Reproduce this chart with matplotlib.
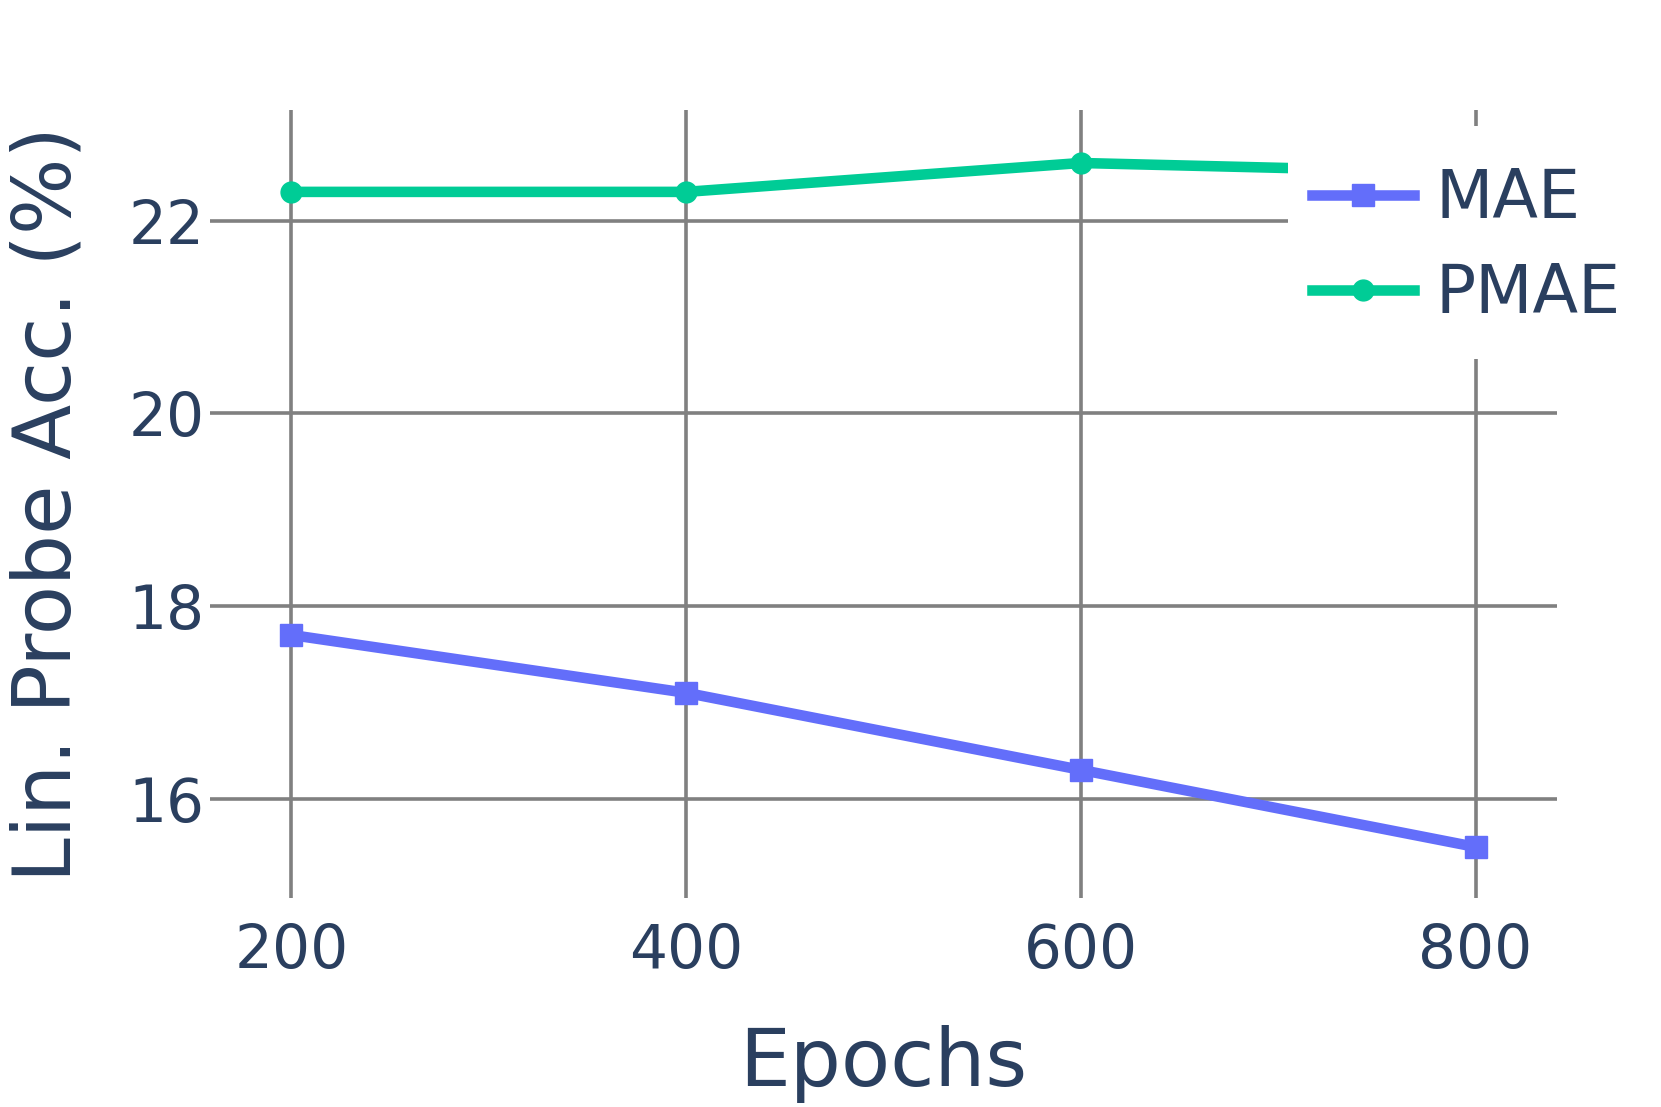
import matplotlib
matplotlib.use("Agg")
import matplotlib.pyplot as plt
from matplotlib.lines import Line2D
from matplotlib.patches import Rectangle

# values
epochs = [200, 400, 600, 800]
mae_acc = [17.7, 17.1, 16.3, 15.5]
pmae_acc = [22.3, 22.3, 22.6, 22.5]
series_names = ["MAE", "PMAE"]
y_ticks = [16, 18, 20, 22]

TEXT = "#2a3f5f"
GRID = "#808080"
MAE_COLOR = "#636efa"
PMAE_COLOR = "#00cc96"
LW = 7.6

W, H = 1661, 1107
fig = plt.figure(figsize=(W / 100, H / 100), dpi=100)
ax = fig.add_axes([210 / W, 1 - 898 / H, (1557 - 210) / W, (898 - 110) / H])

ax.plot(epochs, mae_acc, color=MAE_COLOR, lw=LW, marker="s", ms=16,
        solid_joinstyle="round", zorder=3, clip_on=False)
ax.plot(epochs, pmae_acc, color=PMAE_COLOR, lw=LW, marker="o", ms=15,
        solid_joinstyle="round", zorder=3, clip_on=False)

ax.set_xlim(158.7, 841.3)
ax.set_ylim(14.97, 23.15)
ax.set_xticks(epochs)
ax.set_yticks(y_ticks)
ax.grid(True, color=GRID, lw=2.6)
ax.set_axisbelow(True)
for s in ax.spines.values():
    s.set_visible(False)
ax.tick_params(length=0, labelsize=43, labelcolor=TEXT)
ax.tick_params(axis="x", pad=17)
ax.tick_params(axis="y", pad=4)

ax.set_xlabel("Epochs", fontsize=58, color=TEXT, va="center")
ax.xaxis.set_label_coords(0.5, -0.211)
ax.set_ylabel("Lin. Probe Acc. (%)", fontsize=58, color=TEXT, va="center")
ax.yaxis.set_label_coords(-0.120, 0.5)

# legend background covers part of the plot, like plotly does
fig.patches.append(Rectangle((1288 / W, 1 - 359 / H), (W - 1288) / W, (359 - 126) / H,
                             transform=fig.transFigure, facecolor="white",
                             edgecolor="none", zorder=4))
handles = [
    Line2D([], [], color=MAE_COLOR, lw=LW, marker="s", ms=16),
    Line2D([], [], color=PMAE_COLOR, lw=LW, marker="o", ms=15),
]
fig.legend(handles, series_names, loc="upper left",
           bbox_to_anchor=(1312 / W, 1 - 166 / H), frameon=False,
           fontsize=48, labelcolor=TEXT, handlelength=1.53, handletextpad=0.32,
           labelspacing=0.44, borderpad=0, borderaxespad=0)

fig.savefig("out.png", dpi=100)
